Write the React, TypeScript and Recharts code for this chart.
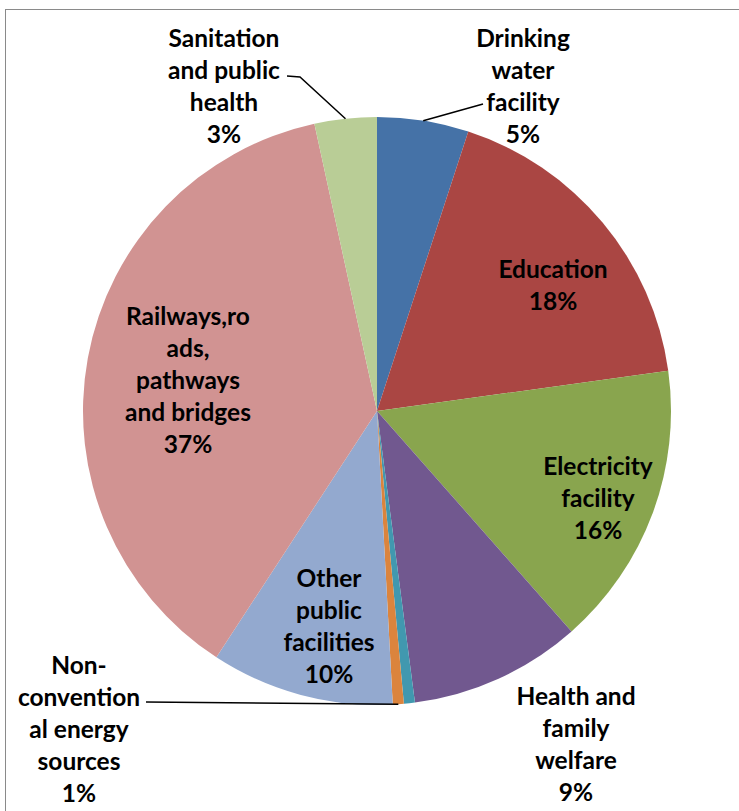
import React from 'react';
import { PieChart, Pie, Cell } from 'recharts';

// categories, clockwise from 12 o'clock
const categories = [
  'Drinking water facility',
  'Education',
  'Electricity facility',
  'Health and family welfare',
  'Unlabelled',
  'Non-conventional energy sources',
  'Other public facilities',
  'Railways,roads, pathways and bridges',
  'Sanitation and public health',
];
const shares = [5, 17.7, 15.6, 9.4, 0.6, 0.6, 10, 37.2, 3.4];
const labelText = [
  ['Drinking', 'water', 'facility'],
  ['Education'],
  ['Electricity', 'facility'],
  ['Health and', 'family', 'welfare'],
  [],
  ['Non-', 'convention', 'al energy', 'sources'],
  ['Other', 'public', 'facilities'],
  ['Railways,ro', 'ads,', 'pathways', 'and bridges'],
  ['Sanitation', 'and public', 'health'],
];

const colors = ['#4572A7', '#AA4643', '#89A54E', '#71588F', '#4198AF', '#DB843D', '#93A9CF', '#D19392', '#B9CD96'];

const CX = 377;
const CY = 411;
const R = 294;
const LINE_H = 32.2;

// label block position (first line centre) relative to pie centre
const labelPos: { dx: number; dy: number; leader?: number[][] }[] = [
  { dx: 146, dy: -374, leader: [[106, -307]] },
  { dx: 176, dy: -143 },
  { dx: 221, dy: 54 },
  { dx: 199, dy: 284 },
  { dx: 0, dy: 0 },
  { dx: -298, dy: 253, leader: [[-231, 291]] },
  { dx: -48, dy: 166 },
  { dx: -189, dy: -96 },
  { dx: -153, dy: -374, leader: [[-77, -334], [-90, -335]] },
];

const data = categories.map((name, i) => ({ name, value: shares[i] }));

const RADIAN = Math.PI / 180;

const renderLabel = (props: any) => {
  const { index, percent, midAngle } = props;
  const lines = labelText[index];
  if (!lines || lines.length === 0) return null;
  const cx = props.cx ?? CX;
  const cy = props.cy ?? CY;
  const pos = labelPos[index];
  const all = [...lines, `${Math.round(percent * 100)}%`];
  let leader = null;
  if (pos.leader) {
    const sx = cx + R * Math.cos(-midAngle * RADIAN);
    const sy = cy + R * Math.sin(-midAngle * RADIAN);
    const pts = [[sx, sy], ...pos.leader.map(([x, y]) => [cx + x, cy + y])];
    leader = (
      <polyline
        points={pts.map(p => p.join(',')).join(' ')}
        fill="none"
        stroke="#000"
        strokeWidth={1.5}
      />
    );
  }
  return (
    <g key={`lbl-${index}`}>
      {leader}
      {all.map((t, k) => (
        <text
          key={k}
          x={cx + pos.dx}
          y={cy + pos.dy + k * LINE_H}
          textAnchor="middle"
          dominantBaseline="central"
          fill="#000"
          style={{ fontFamily: 'Lato, "Open Sans", sans-serif', fontWeight: 700, fontSize: 24.5 }}
        >
          {t}
        </text>
      ))}
    </g>
  );
};

export default function App() {
  return (
    <div style={{ position: 'absolute', left: 0, top: 0, width: 739, height: 811, overflow: 'hidden', background: '#fff' }}>
      <div
        style={{
          position: 'absolute',
          left: 5,
          top: 9,
          width: 900,
          height: 900,
          borderTop: '1.5px solid #8a8a8a',
          borderLeft: '1.5px solid #8a8a8a',
        }}
      />
      <div style={{ position: 'absolute', left: 0, top: 0 }}>
        <PieChart width={739} height={811} margin={{ top: 0, right: 0, bottom: 0, left: 0 }}>
          <Pie
            data={data}
            dataKey="value"
            nameKey="name"
            cx={CX}
            cy={CY}
            outerRadius={R}
            startAngle={90}
            endAngle={-270}
            stroke="none"
            label={renderLabel}
            labelLine={false}
            isAnimationActive={false}
          >
            {data.map((d, i) => (
              <Cell key={d.name} fill={colors[i]} />
            ))}
          </Pie>
        </PieChart>
      </div>
    </div>
  );
}
